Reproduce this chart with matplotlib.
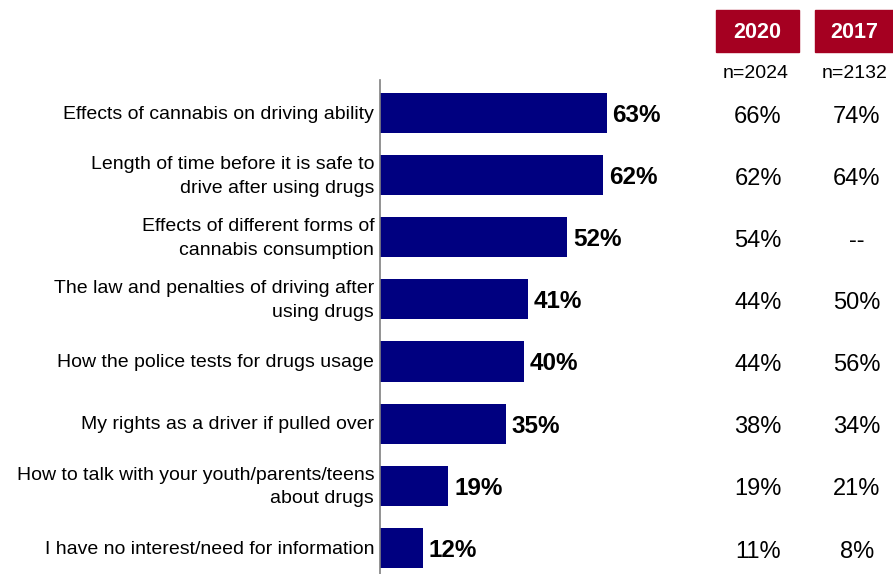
import matplotlib

matplotlib.use("Agg")

import matplotlib.pyplot as plt
from matplotlib.patches import Rectangle

categories = [
    "Effects of cannabis on driving ability",
    "Length of time before it is safe to\ndrive after using drugs",
    "Effects of different forms of\ncannabis consumption",
    "The law and penalties of driving after\nusing drugs",
    "How the police tests for drugs usage",
    "My rights as a driver if pulled over",
    "How to talk with your youth/parents/teens\nabout drugs",
    "I have no interest/need for information",
]
values = [63, 62, 52, 41, 40, 35, 19, 12]
col_2020 = ["66%", "62%", "54%", "44%", "44%", "38%", "19%", "11%"]
col_2017 = ["74%", "64%", "--", "50%", "56%", "34%", "21%", "8%"]
headers = ["2020", "2017"]
sample_sizes = ["n=2024", "n=2132"]

plt.rcParams["font.family"] = ["Liberation Sans", "DejaVu Sans"]

W, H = 893, 574
fig = plt.figure(figsize=(W / 100, H / 100), dpi=100)
# axes spans from the vertical axis line to the right edge
ax = fig.add_axes([380 / W, 0, 1 - 380 / W, (574 - 80) / H])
px_per_pct = 3.6
ax.set_xlim(0, (W - 380) / px_per_pct)
ax.set_ylim(7.42, -0.53)

y = list(range(len(categories)))
ax.barh(y, values, height=0.645, color="#000080")
for yi, v in zip(y, values):
    ax.text(v + 1.6, yi + 0.04, f"{v}%", va="center", ha="left", fontsize=17.5,
            fontweight="bold")
    ax.text(-1.6, yi + 0.02, categories[yi], va="center", ha="right", fontsize=14,
            linespacing=1.5)

for spine in ["top", "right", "bottom"]:
    ax.spines[spine].set_visible(False)
ax.spines["left"].set_color("#808080")
ax.spines["left"].set_linewidth(1.2)
ax.set_xticks([])
ax.set_yticks([])
ax.patch.set_alpha(0)

col_x = [758, 857]
for cx, vals in zip(col_x, [col_2020, col_2017]):
    xd = (cx - 380) / px_per_pct
    for yi, s in zip(y, vals):
        ax.text(xd, yi + 0.06, s, va="center", ha="center", fontsize=17)

boxes = [(716, 799), (815, 893)]
n_x = [756, 855]
for (x0, x1), nx, label, n in zip(boxes, n_x, headers, sample_sizes):
    fig.patches.append(Rectangle((x0 / W, 1 - 52 / H), (x1 - x0) / W, 42 / H,
                                 transform=fig.transFigure, color="#A50021"))
    fig.text((x0 + x1) / 2 / W, 1 - 32 / H, label, color="white", fontsize=15.5,
             fontweight="bold", ha="center", va="center")
    fig.text(nx / W, 1 - 73 / H, n, fontsize=14, ha="center", va="center")

fig.savefig("out.png", dpi=100)
